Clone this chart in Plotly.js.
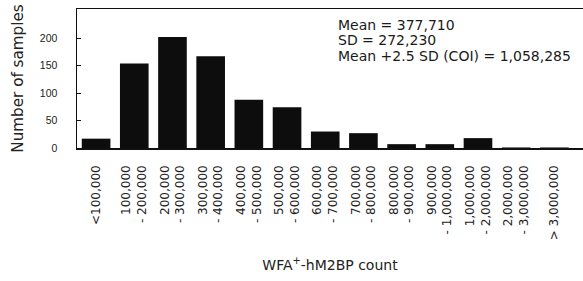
<!DOCTYPE html>
<html>
<head>
<meta charset="utf-8">
<script src="https://cdn.plot.ly/plotly-3.0.1.min.js"></script>
<style>html,body{margin:0;padding:0;background:#fff;}#chart{width:583px;height:281px;}</style>
</head>
<body>
<div id="chart"></div>
<script>
const categories = [
  "<100,000",
  "100,000<br>- 200,000",
  "200,000<br>- 300,000",
  "300,000<br>- 400,000",
  "400,000<br>- 500,000",
  "500,000<br>- 600,000",
  "600,000<br>- 700,000",
  "700,000<br>- 800,000",
  "800,000<br>- 900,000",
  "900,000<br>- 1,000,000",
  "1,000,000<br>- 2,000,000",
  "2,000,000<br>- 3,000,000",
  "> 3,000,000"
];
const samples = [17, 154, 202, 167, 88, 74, 30, 27, 7, 7, 18, 1, 1];
const statLines = ["Mean = 377,710", "SD = 272,230", "Mean +2.5 SD (COI) = 1,058,285"];
const yTicks = [0, 50, 100, 150, 200];

const FONT = "Liberation Sans, Arial, sans-serif";
const WIDE = "DejaVu Sans, Liberation Sans, sans-serif";
const idx = categories.map((_, i) => i);

const trace = {
  type: "bar",
  x: idx,
  y: samples,
  marker: {color: "#0d0d0d", line: {width: 0}},
  hoverinfo: "skip"
};

const statY = [0.887, 0.777, 0.660];
const annotations = statLines.map((t, i) => ({
  text: t, xref: "paper", yref: "paper", x: 0.512, y: statY[i],
  xanchor: "left", yanchor: "middle", showarrow: false,
  font: {family: WIDE, size: 14, color: "#1a1a1a"}
}));

const layout = {
  width: 583, height: 281,
  margin: {l: 77, r: 0, t: 9, b: 133},
  paper_bgcolor: "#fff", plot_bgcolor: "#fff",
  showlegend: false,
  bargap: 0.25,
  font: {family: FONT, color: "#222"},
  xaxis: {
    range: [-0.5, 12.75],
    tickmode: "array", tickvals: idx, ticktext: categories,
    tickangle: -90,
    tickfont: {family: WIDE, size: 12, color: "#222"},
    ticks: "", showgrid: false, zeroline: false,
    showline: true, mirror: true, linecolor: "#111", linewidth: 1.5,
    ticklabelstandoff: 11,
    title: {text: "WFA<sup>+</sup>-hM2BP count", font: {family: WIDE, size: 14, color: "#222"}, standoff: 21}
  },
  yaxis: {
    range: [0, 253],
    tickmode: "array", tickvals: yTicks, ticktext: yTicks.map(String),
    tickfont: {family: FONT, size: 10.5, color: "#222"},
    ticks: "inside", ticklen: 4, tickcolor: "#111",
    showgrid: false, zeroline: false,
    showline: true, linecolor: "#111", linewidth: 1.5,
    ticklabelstandoff: 16,
    title: {text: "Number of samples", font: {family: WIDE, size: 15.2, color: "#222"}, standoff: 12}
  },
  annotations: annotations
};

Plotly.newPlot("chart", [trace], layout, {staticPlot: true, displayModeBar: false});
</script>
</body>
</html>
